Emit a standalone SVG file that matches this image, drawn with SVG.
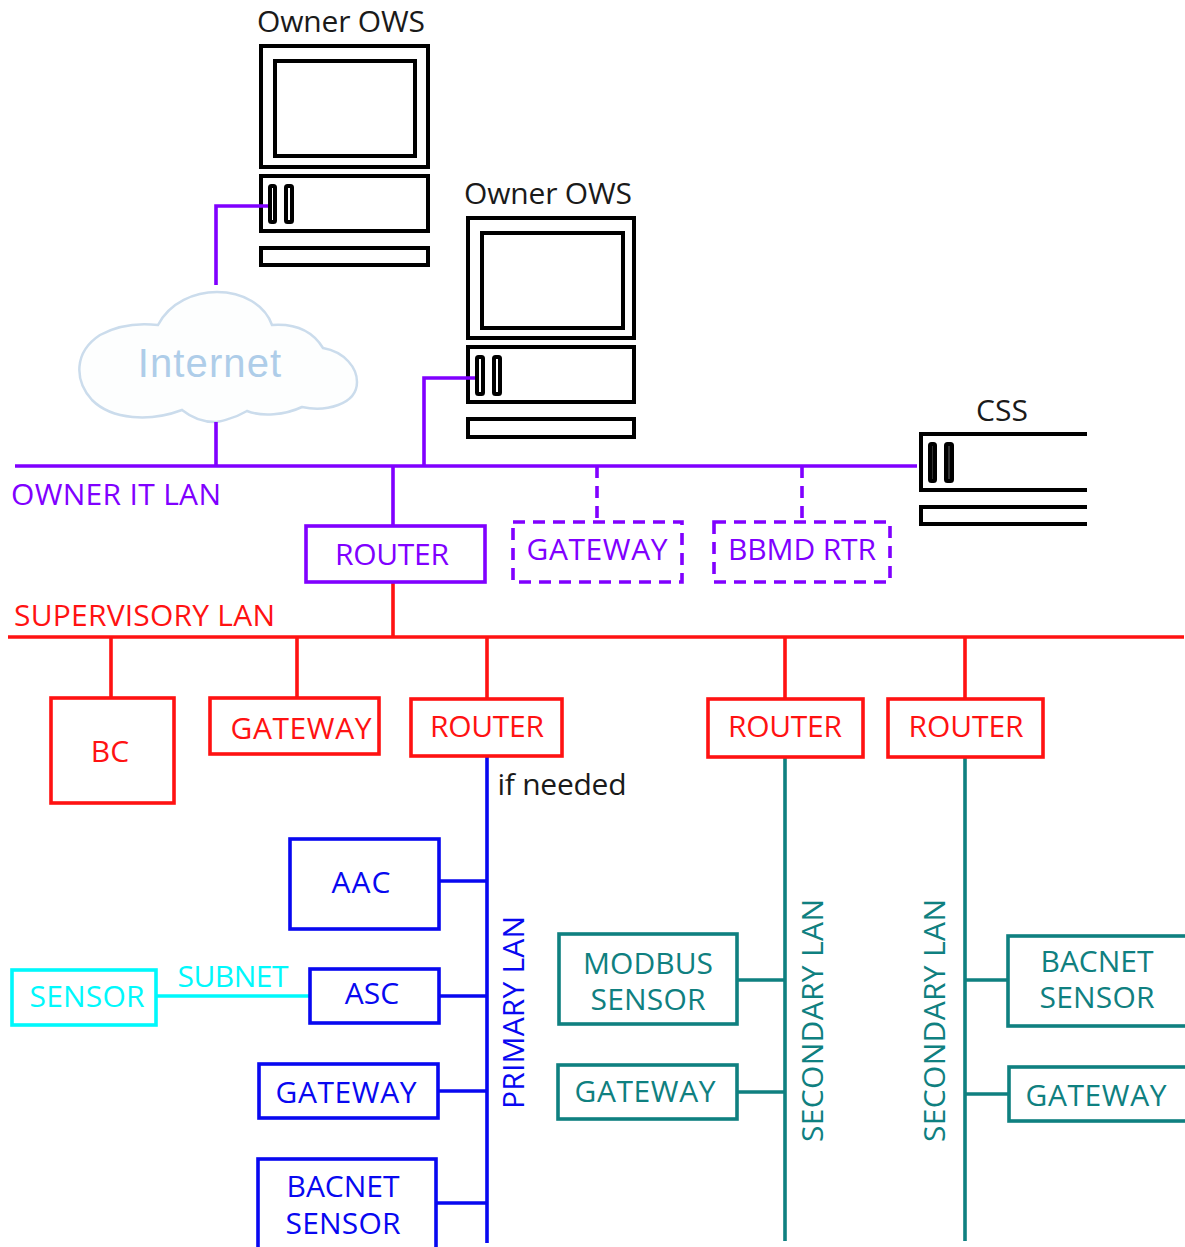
<svg xmlns="http://www.w3.org/2000/svg" width="1185" height="1247" viewBox="0 0 1185 1247">
<style>
text{font-family:"Open Sans","Noto Sans","Liberation Sans",sans-serif;font-size:30px;text-anchor:middle}
rect{fill:#fff}
.k rect{fill:#fff;stroke:#000;stroke-width:4}
.k rect.s{rx:1.5px}
.k rect.f{fill:#333;rx:1.5px}
.kt{fill:#1a1a1a}
.p rect{stroke:#8000ff;stroke-width:3.6}
.p text{fill:#8000ff}
.r rect{stroke:#ff1212;stroke-width:3.6}
.r text{fill:#ff1212}
.b rect{stroke:#0808f0;stroke-width:3.6}
.b text{fill:#0808f0}
.t rect{stroke:#0f8080;stroke-width:3.6}
.t text{fill:#0f8080}
.c rect{stroke:#00f8fc;stroke-width:3.6}
.c text{fill:#00f8fc}
.d rect{stroke-dasharray:12 8}
.lp,.lr,.lb,.lt,.lc{fill:none;stroke-width:3.6}
.lp{stroke:#8000ff}.lr{stroke:#ff1212}.lb{stroke:#0808f0}.lt{stroke:#0f8080}.lc{stroke:#00f8fc}
</style>
<g id="ows1" class="k">
<text class="kt" x="341" y="32" textLength="168">Owner OWS</text>
<rect x="261" y="46" width="167" height="121"/>
<rect x="275" y="61" width="140" height="95"/>
<rect x="261" y="176" width="167" height="55"/>
<rect class="s" x="270" y="186" width="5" height="36"/>
<rect class="s" x="286" y="186" width="6" height="36"/>
<rect x="261" y="248" width="167" height="17"/>
</g>
<g id="ows2" class="k">
<text class="kt" x="548" y="204" textLength="168">Owner OWS</text>
<rect x="468" y="218" width="166" height="120"/>
<rect x="482" y="233" width="141" height="95"/>
<rect x="468" y="347" width="166" height="55"/>
<rect class="s" x="477" y="357" width="6" height="37"/>
<rect class="s" x="494" y="357" width="6" height="37"/>
<rect x="468" y="419" width="166" height="18"/>
</g>
<g id="css" class="k">
<text class="kt" x="1002" y="421">CSS</text>
<path d="M1087 434H921V490H1087" fill="#fff" stroke="#000" stroke-width="4"/>
<rect class="f" x="930" y="444" width="5" height="37"/>
<rect class="f" x="946" y="444" width="6" height="37"/>
<path d="M1087 507H921V524H1087" fill="#fff" stroke="#000" stroke-width="4"/>
</g>
<g id="internet">
<path d="M158 325C170 302 195 292 217 292C243 292 265 305 272 325C300 323 315 335 323 348C345 352 357 368 357 382C357 405 325 412 302 407C285 415 262 417 247 411C232 420 216 422 215 422C204 422 192 418 182 410C150 422 112 420 92 400C74 380 74 352 100 335C118 325 140 323 158 325Z" fill="#fdfefe" stroke="#cbdcec" stroke-width="2.5"/>
<text x="210" y="377" style="font-size:40px;fill:#aecde9;font-family:'Liberation Sans',sans-serif;letter-spacing:1.1px">Internet</text>
</g>
<g id="connectors">
<path class="lp" d="M15 466H917M216 285V206H268M216 422V466M424 466V378H475M393 466V526"/>
<path class="lp" d="M597 466V522M802 466V522" stroke-dasharray="12 8"/>
<path class="lr" d="M8 637H1184M393 582V637M111 637V698M297 637V698M487 637V699M785 637V699M965 637V699"/>
<path class="lb" d="M487 757V1243M440 881H487M440 996H487M438 1091H487M437 1203H487"/>
<path class="lt" d="M785 757V1241M738 980H785M737 1092H785M965 757V1241M965 980H1007M965 1094H1008"/>
<path class="lc" d="M156 996H310"/>
</g>
<g id="lan-labels">
<text x="116" y="505" style="fill:#8000ff" textLength="210">OWNER IT LAN</text>
<text x="144.500" y="626" style="fill:#ff1212" textLength="261">SUPERVISORY LAN</text>
<text x="562" y="795" style="fill:#1a1a1a" textLength="129">if needed</text>
<text x="233" y="987" style="fill:#00f8fc" textLength="111">SUBNET</text>
<text transform="translate(524 1012.500) rotate(-90)" style="fill:#0808f0" textLength="193">PRIMARY LAN</text>
<text transform="translate(823 1020.500) rotate(-90)" style="fill:#0f8080" textLength="243">SECONDARY LAN</text>
<text transform="translate(945 1020.500) rotate(-90)" style="fill:#0f8080" textLength="243">SECONDARY LAN</text>
</g>
<g id="router-it" class="p"><rect x="306" y="526" width="179" height="56"/><text x="392" y="565" textLength="114">ROUTER</text></g>
<g id="gateway-it" class="p d"><rect x="513" y="522" width="169" height="60"/><text x="597" y="560" textLength="141">GATEWAY</text></g>
<g id="bbmd" class="p d"><rect x="714" y="522" width="176" height="60"/><text x="802" y="560" textLength="148">BBMD RTR</text></g>
<g id="bc" class="r"><rect x="51" y="698" width="123" height="105"/><text x="110" y="762">BC</text></g>
<g id="gateway-sup" class="r"><rect x="210" y="698" width="169" height="56"/><text x="301" y="739" textLength="141">GATEWAY</text></g>
<g id="router-1" class="r"><rect x="411" y="699" width="151" height="57"/><text x="487" y="737" textLength="114">ROUTER</text></g>
<g id="router-2" class="r"><rect x="708" y="699" width="155" height="58"/><text x="785" y="737" textLength="114">ROUTER</text></g>
<g id="router-3" class="r"><rect x="888" y="699" width="155" height="58"/><text x="966" y="737" textLength="115">ROUTER</text></g>
<g id="aac" class="b"><rect x="290" y="839" width="149" height="90"/><text x="361" y="893" textLength="59">AAC</text></g>
<g id="asc" class="b"><rect x="310" y="969" width="129" height="54"/><text x="372" y="1004">ASC</text></g>
<g id="gateway-pri" class="b"><rect x="259" y="1064" width="179" height="54"/><text x="346" y="1103" textLength="141">GATEWAY</text></g>
<g id="bacnet-pri" class="b"><rect x="258" y="1159" width="178" height="90"/><text x="343" y="1197" textLength="113">BACNET</text><text x="343" y="1234" textLength="115">SENSOR</text></g>
<g id="sensor" class="c"><rect x="12" y="970" width="144" height="55"/><text x="87" y="1007" textLength="115">SENSOR</text></g>
<g id="modbus" class="t"><rect x="559" y="934" width="178" height="90"/><text x="648" y="974" textLength="130">MODBUS</text><text x="648" y="1010" textLength="115">SENSOR</text></g>
<g id="gateway-sec1" class="t"><rect x="558" y="1065" width="179" height="54"/><text x="645" y="1102" textLength="141">GATEWAY</text></g>
<g id="bacnet-sec" class="t"><rect x="1008" y="936" width="182" height="90"/><text x="1097" y="972" textLength="113">BACNET</text><text x="1097" y="1008" textLength="115">SENSOR</text></g>
<g id="gateway-sec2" class="t"><rect x="1009" y="1067" width="180" height="54"/><text x="1096" y="1106" textLength="141">GATEWAY</text></g>
</svg>
